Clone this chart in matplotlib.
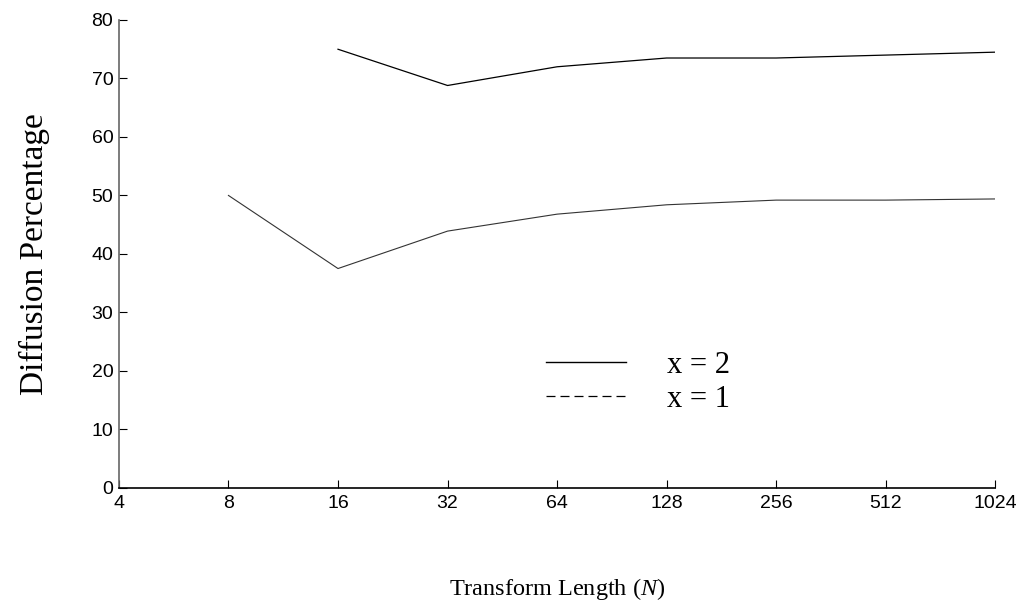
import matplotlib.pyplot as plt
from matplotlib.lines import Line2D

# transform lengths and diffusion percentages
n_upper = [16, 32, 64, 128, 256, 512, 1024]
diff_upper = [75.0, 68.8, 72.0, 73.5, 73.5, 74.0, 74.5]

n_lower = [8, 16, 32, 64, 128, 256, 512, 1024]
diff_lower = [50.0, 37.5, 43.9, 46.8, 48.4, 49.2, 49.2, 49.4]

xticks = [4, 8, 16, 32, 64, 128, 256, 512, 1024]
yticks = [0, 10, 20, 30, 40, 50, 60, 70, 80]
legend_labels = ['x = 2', 'x = 1']

serif = ['Liberation Serif', 'DejaVu Serif']
sans = ['Liberation Sans', 'DejaVu Sans']

plt.rcParams['mathtext.fontset'] = 'custom'
plt.rcParams['mathtext.rm'] = 'Liberation Serif'
plt.rcParams['mathtext.it'] = 'Liberation Serif:italic'

fig = plt.figure(figsize=(10.25, 6.06), dpi=100)
ax = fig.add_axes([0.116, 0.195, 0.855, 0.772])

ax.plot(n_upper, diff_upper, color='black', lw=0.9)
ax.plot(n_lower, diff_lower, color='#333333', lw=0.8)

ax.set_xscale('log', base=2)
ax.set_xlim(4, 1024)
ax.set_ylim(0, 80)
ax.set_xticks(xticks)
ax.set_xticklabels([str(t) for t in xticks], family=sans, fontsize=14)
ax.set_yticks(yticks)
ax.set_yticklabels([str(t) for t in yticks], family=sans, fontsize=14)
ax.minorticks_off()
ax.tick_params(direction='in', length=6, width=0.8)
ax.tick_params(axis='x', pad=5)
ax.tick_params(axis='y', pad=4)

for s in ['top', 'right']:
    ax.spines[s].set_visible(False)
ax.spines['left'].set_color('#666666')
ax.spines['left'].set_linewidth(1.2)
ax.spines['bottom'].set_linewidth(1.2)

ax.set_ylabel('Diffusion Percentage', family=serif, fontsize=24, labelpad=30)
ax.set_xlabel('Transform Length ($\\mathit{N}$)', family=serif, fontsize=17.5, labelpad=46)

handles = [Line2D([], [], color='black', lw=1.0),
           Line2D([], [], color='black', lw=0.9, linestyle=(0, (7.2, 4.0)))]
ax.legend(handles, legend_labels, loc='upper left', bbox_to_anchor=(0.47, 0.325),
          frameon=False, handlelength=2.6, handletextpad=1.35, labelspacing=0.15,
          borderpad=0, prop={'family': serif, 'size': 22})

fig.savefig('out.png', dpi=100)
